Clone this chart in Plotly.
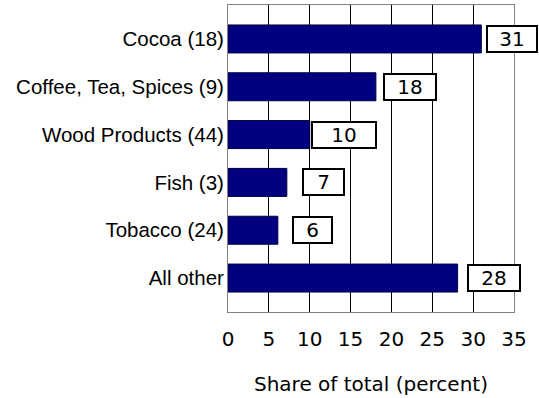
import plotly.graph_objects as go

categories = ["Cocoa (18)", "Coffee, Tea, Spices (9)", "Wood Products (44)",
              "Fish (3)", "Tobacco (24)", "All other"]
shares = [31.0, 18.1, 10.0, 7.2, 6.1, 28.1]
label_text = [str(round(v)) for v in shares]
x_ticks = [0, 5, 10, 15, 20, 25, 30, 35]

# label box styling (pixel offsets from bar end and box widths)
label_gap_px = [5, 7, 1, 15, 14, 9]
label_box_w = [46, 48, 60, 37, 35, 48]

fig = go.Figure()
fig.add_trace(go.Bar(
    x=shares, y=categories, orientation="h",
    marker=dict(color="#000080", line=dict(color="#000040", width=1)),
    width=0.585, hoverinfo="skip",
))

for v, c, t, g, w in zip(shares, categories, label_text, label_gap_px, label_box_w):
    fig.add_annotation(
        x=v, y=c, xref="x", yref="y", text=t, showarrow=False,
        xanchor="left", yanchor="middle", xshift=g,
        width=w, height=22, align="center", valign="middle",
        bgcolor="white", bordercolor="black", borderwidth=2, borderpad=1,
        font=dict(family="DejaVu Sans", size=20, color="black"),
    )

n = len(categories)
fig.update_layout(
    width=539, height=398,
    margin=dict(l=228, r=25, t=5, b=86, pad=0),
    paper_bgcolor="white", plot_bgcolor="white",
    showlegend=False,
    xaxis=dict(
        range=[0, 35], tickvals=x_ticks, ticktext=[str(t) for t in x_ticks],
        showgrid=True, gridcolor="black", gridwidth=1,
        showline=True, linecolor="#808080", linewidth=1, mirror=True,
        zeroline=False, ticks="", ticklabelstandoff=9,
        tickfont=dict(family="DejaVu Sans", size=20, color="black"),
        title=dict(text="Share of total (percent)", standoff=26,
                   font=dict(family="DejaVu Sans", size=20, color="black")),
        fixedrange=True,
    ),
    yaxis=dict(
        type="category", categoryorder="array", categoryarray=categories,
        range=[n - 0.5 + 0.21, -0.71],
        showgrid=False, showline=True, linecolor="#808080", linewidth=1, mirror=True,
        zeroline=False, ticks="", ticklabelstandoff=-1,
        tickfont=dict(family="Liberation Sans, Arial", size=20.5, color="black"),
        fixedrange=True,
    ),
)

fig.write_html("out.html", config={"displayModeBar": False},
               post_script="document.body.style.margin='0';")
